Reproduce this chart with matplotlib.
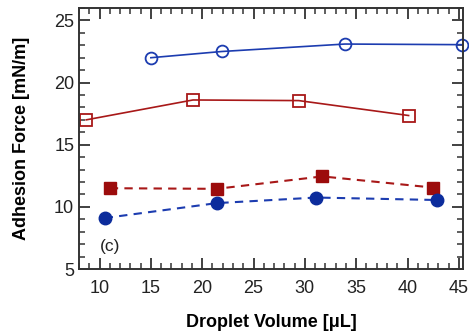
import matplotlib
matplotlib.use('Agg')
import matplotlib.pyplot as plt
from matplotlib.ticker import MultipleLocator

plt.rcParams['font.family'] = ['Liberation Sans', 'DejaVu Sans']

# open circles (solid blue line)
open_circ_x = [15.0, 21.9, 33.9, 45.3]
open_circ_y = [22.0, 22.5, 23.1, 23.05]
# open squares (solid red line)
open_sq_x = [8.7, 19.1, 29.4, 40.1]
open_sq_y = [17.0, 18.6, 18.55, 17.35]
# filled squares (dashed red)
fill_sq_x = [11.0, 21.4, 31.7, 42.5]
fill_sq_y = [11.5, 11.45, 12.45, 11.55]
# filled circles (dashed blue)
fill_circ_x = [10.5, 21.4, 31.1, 42.9]
fill_circ_y = [9.1, 10.3, 10.75, 10.55]

blue = '#1c3cb0'
red = '#a81818'
dblue = '#0c2c9c'
dred = '#9c0c0c'

fig = plt.figure(figsize=(4.69, 3.35), dpi=100)
ax = fig.add_axes([79/469, 1-269/335, (463-79)/469, (269-8)/335])

ax.plot(open_circ_x, open_circ_y, '-o', color=blue, mfc='none', mec=blue,
        ms=8.5, mew=1.3, lw=1.2, clip_on=False)
ax.plot(open_sq_x, open_sq_y, '-s', color=red, mfc='none', mec=red,
        ms=8.5, mew=1.3, lw=1.2, clip_on=False)
ax.plot(fill_sq_x, fill_sq_y, '--s', color=red, mfc=dred, mec=dred,
        ms=9, lw=1.5, dashes=(4, 3))
ax.plot(fill_circ_x, fill_circ_y, '--o', color=blue, mfc=dblue, mec=dblue,
        ms=9, lw=1.5, dashes=(4, 3))

ax.set_xlim(8, 45.4)
ax.set_ylim(5, 26)
ax.xaxis.set_major_locator(MultipleLocator(5))
ax.xaxis.set_minor_locator(MultipleLocator(1))
ax.yaxis.set_major_locator(MultipleLocator(5))
ax.yaxis.set_minor_locator(MultipleLocator(1))
ax.tick_params(which='both', direction='in', top=True, right=True,
               color='#333333', labelsize=13, labelcolor='#222222')
ax.tick_params(which='major', length=8, width=1.3)
ax.tick_params(which='minor', length=4.5, width=1.1)
ax.tick_params(axis='x', pad=8)
for s in ax.spines.values():
    s.set_color('#333333')
    s.set_linewidth(1.4)

ax.text(11, 6.8, '(c)', fontsize=12.5, ha='center', va='center', color='#222222')
ax.set_xlabel('Droplet Volume [\u03bcL]', fontsize=13, fontweight='bold', labelpad=12)
ax.set_ylabel('Adhesion Force [mN/m]', fontsize=13, fontweight='bold', labelpad=17)

fig.savefig('out.png', dpi=100)
